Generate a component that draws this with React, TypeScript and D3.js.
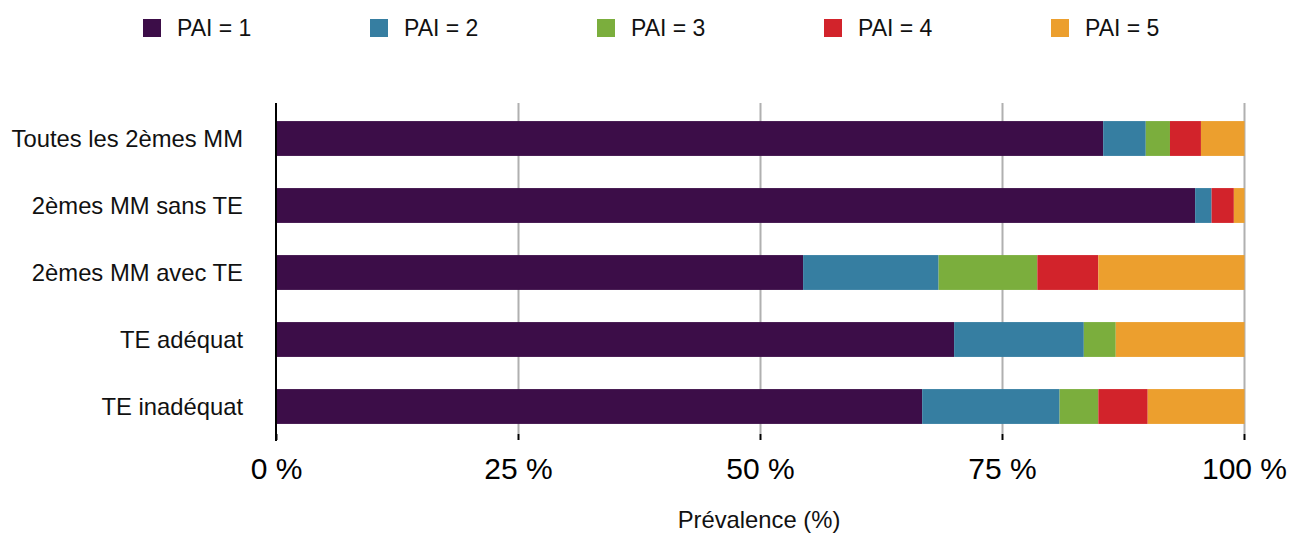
import { useEffect, useRef } from "react";
import * as d3 from "d3";

const categories = [
  "Toutes les 2èmes MM",
  "2èmes MM sans TE",
  "2èmes MM avec TE",
  "TE adéquat",
  "TE inadéquat",
];
const seriesNames = ["PAI = 1", "PAI = 2", "PAI = 3", "PAI = 4", "PAI = 5"];
const pai1 = [85.4, 94.9, 54.4, 70.0, 66.7];
const pai2 = [4.4, 1.7, 14.0, 13.4, 14.2];
const pai3 = [2.5, 0, 10.2, 3.3, 4.0];
const pai4 = [3.2, 2.3, 6.3, 0, 5.1];
const pai5 = [4.5, 1.1, 15.1, 13.3, 10.0];
const tickValues = [0, 25, 50, 75, 100];
const colors = ["#3c0d48", "#367ea1", "#7bae3d", "#d2232b", "#ec9f2e"];

export default function App() {
  const svgRef = useRef<SVGSVGElement>(null);

  useEffect(() => {
    const svg = d3.select(svgRef.current);
    svg.selectAll("*").remove();

    const font = "'Liberation Sans', Arial, sans-serif";
    const left = 276.5;
    const right = 1244.5;
    const top = 105;
    const bottom = 440;

    const rows = categories.map((c, i) => ({
      cat: c,
      s0: pai1[i],
      s1: pai2[i],
      s2: pai3[i],
      s3: pai4[i],
      s4: pai5[i],
    }));
    const keys = ["s0", "s1", "s2", "s3", "s4"];
    const stacked = d3.stack<any>().keys(keys)(rows);

    const x = d3.scaleLinear().domain([0, 100]).range([left, right]);
    const y = d3
      .scaleBand()
      .domain(categories)
      .range([top, bottom])
      .paddingInner(0.48)
      .paddingOuter(0.24);

    // grid lines
    svg
      .append("g")
      .selectAll("line")
      .data(tickValues.filter((t) => t > 0))
      .enter()
      .append("line")
      .attr("x1", (d) => x(d))
      .attr("x2", (d) => x(d))
      .attr("y1", top - 2)
      .attr("y2", bottom - 6)
      .attr("stroke", "#b0b0b0")
      .attr("stroke-width", 2);

    // bars
    svg
      .append("g")
      .selectAll("g")
      .data(stacked)
      .enter()
      .append("g")
      .attr("fill", (_, i) => colors[i])
      .selectAll("rect")
      .data((d) => d)
      .enter()
      .append("rect")
      .attr("x", (d) => x(d[0]))
      .attr("width", (d) => x(d[1]) - x(d[0]))
      .attr("y", (d) => y(d.data.cat) as number)
      .attr("height", y.bandwidth());

    // ticks
    svg
      .append("g")
      .selectAll("line")
      .data(tickValues)
      .enter()
      .append("line")
      .attr("x1", (d) => x(d))
      .attr("x2", (d) => x(d))
      .attr("y1", bottom - 6)
      .attr("y2", bottom)
      .attr("stroke", "#000")
      .attr("stroke-width", 2);

    // y axis line
    svg
      .append("line")
      .attr("x1", x(0) - 0.5)
      .attr("x2", x(0) - 0.5)
      .attr("y1", top - 2)
      .attr("y2", bottom + 1)
      .attr("stroke", "#000")
      .attr("stroke-width", 2);

    // tick labels
    svg
      .append("g")
      .selectAll("text")
      .data(tickValues)
      .enter()
      .append("text")
      .attr("x", (d) => x(d))
      .attr("y", 479)
      .attr("text-anchor", "middle")
      .attr("font-family", font)
      .attr("font-size", 30)
      .attr("fill", "#000")
      .text((d) => `${d} %`);

    // category labels
    svg
      .append("g")
      .selectAll("text")
      .data(categories)
      .enter()
      .append("text")
      .attr("x", 243)
      .attr("y", (d) => (y(d) as number) + y.bandwidth() / 2)
      .attr("dy", "0.35em")
      .attr("text-anchor", "end")
      .attr("font-family", font)
      .attr("font-size", 23.8)
      .attr("fill", "#111")
      .text((d) => d);

    // axis title
    svg
      .append("text")
      .attr("x", 759)
      .attr("y", 528)
      .attr("text-anchor", "middle")
      .attr("font-family", font)
      .attr("font-size", 23.8)
      .attr("fill", "#111")
      .text("Prévalence (%)");

    // legend
    const legend = svg
      .append("g")
      .selectAll("g")
      .data(seriesNames)
      .enter()
      .append("g")
      .attr("transform", (_, i) => `translate(${143 + i * 227},19)`);
    legend
      .append("rect")
      .attr("width", 18)
      .attr("height", 18)
      .attr("fill", (_, i) => colors[i]);
    legend
      .append("text")
      .attr("x", 34)
      .attr("y", 9)
      .attr("dy", "0.35em")
      .attr("font-family", font)
      .attr("font-size", 23)
      .attr("fill", "#111")
      .text((d) => d);
  }, []);

  return (
    <svg
      ref={svgRef}
      width={1290}
      height={534}
      style={{ position: "absolute", left: 0, top: 0, background: "#fff" }}
    />
  );
}
